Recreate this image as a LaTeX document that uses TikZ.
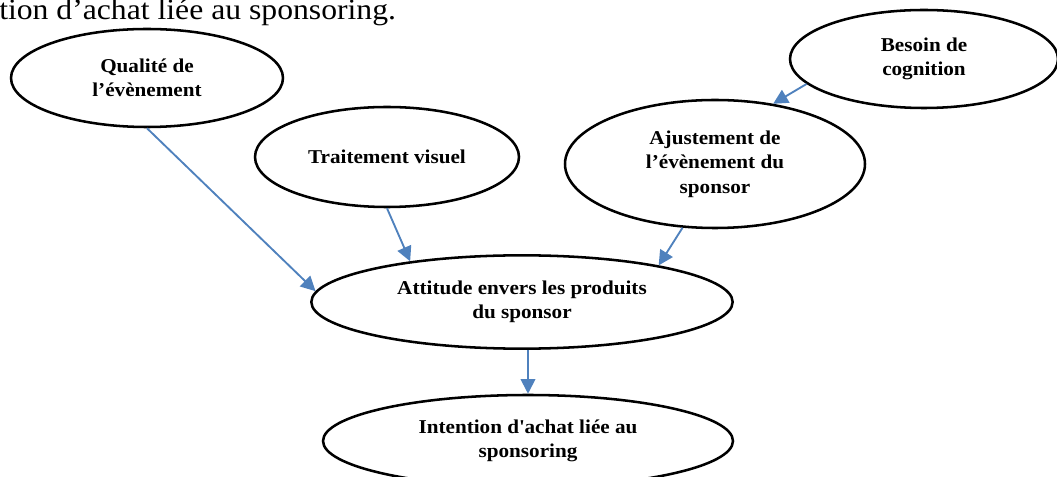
\documentclass[tikz,border=0pt]{standalone}
\usepackage{fontspec}
\setmainfont{Liberation Serif}[FakeStretch=1.08]
\usetikzlibrary{shapes.geometric,arrows.meta}
\definecolor{FlecheBleue}{RGB}{79,129,189}

\tikzset{
  bulle/.style={ellipse, draw, line width=1.9pt, inner sep=0pt, align=center,
    font=\fontsize{14.7}{18.4}\selectfont\bfseries},
  fleche/.style={FlecheBleue, line width=1.4pt, -{Triangle[length=11pt,width=11pt]}}
}

\begin{document}
\begin{tikzpicture}[x=0.75pt,y=-0.75pt]

    \useasboundingbox (0,0) rectangle (1057,477);
    \clip (0,0) rectangle (1057,477);

    % Fin de la legende coupee
    \node[anchor=base west, inner sep=0pt, font=\fontsize{22}{26}\selectfont] (Legende) at (-1,19.5) {tion d’achat liée au sponsoring.};

    \node[bulle, minimum width=204pt, minimum height=73.5pt] (Qualite) at (147,78) {Qualité de\\l’évènement};
    \node[bulle, minimum width=198pt, minimum height=75pt] (Visuel) at (387,157) {Traitement visuel};
    \node[bulle, minimum width=225pt, minimum height=96pt] (Ajustement) at (715,164) {Ajustement de\\l’évènement du\\sponsor};
    \node[bulle, minimum width=201pt, minimum height=73.5pt] (Besoin) at (924,59) {Besoin de\\cognition};
    \node[bulle, minimum width=316pt, minimum height=70pt] (Attitude) at (522,302) {Attitude envers les produits\\du sponsor};
    \node[bulle, minimum width=307.5pt, minimum height=69pt] (Intention) at (528,441) {Intention d\textquotesingle achat liée au\\sponsoring};

    \draw[fleche] (Qualite.south) -- (Attitude.177);
    \draw[fleche] (Visuel.south) -- (Attitude.160);
    \draw[fleche] (Ajustement.-117) -- (Attitude.15);
    \draw[fleche] (Besoin.-168) -- (Ajustement.46);
    \draw[fleche] (Attitude.south -| Intention.north) -- (Intention.north);

\end{tikzpicture}
\end{document}
